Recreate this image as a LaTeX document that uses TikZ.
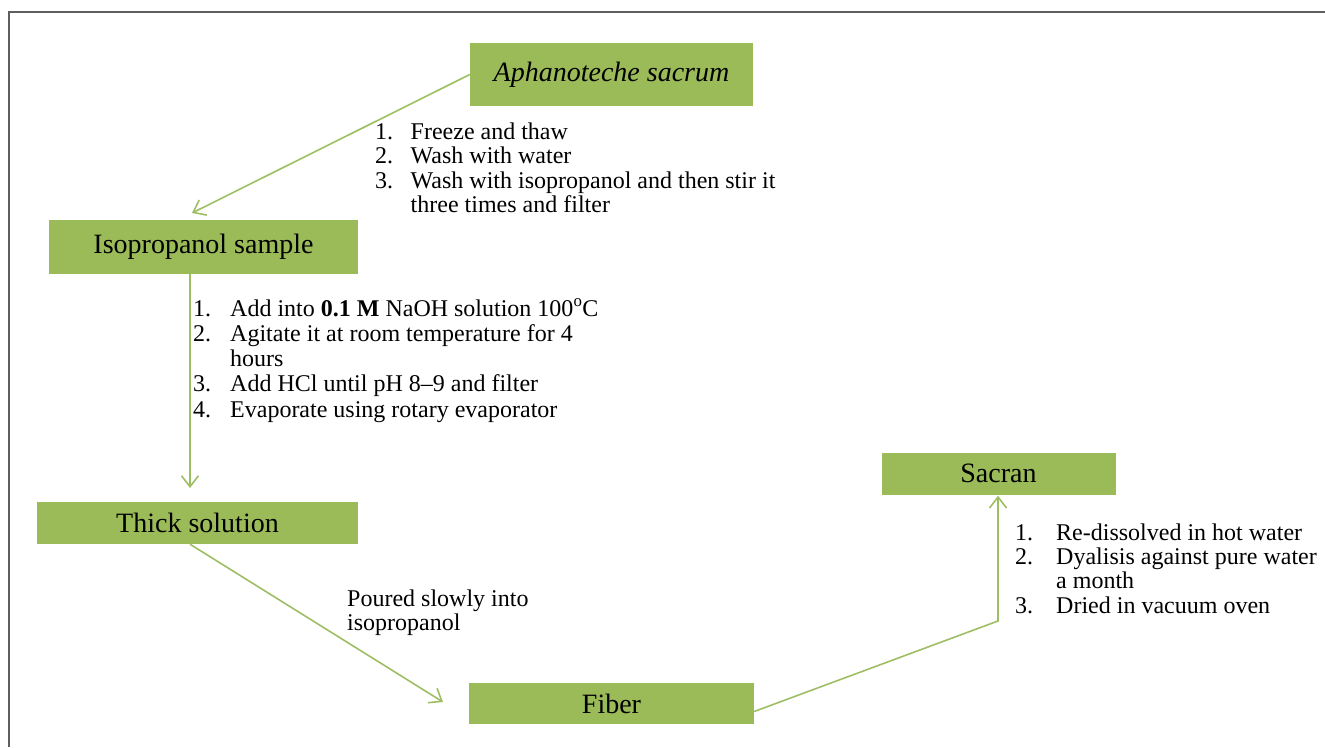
\documentclass[tikz,border=0pt]{standalone}
\usepackage{fontspec}
\setmainfont{Liberation Serif}
\usetikzlibrary{arrows.meta,calc}
\definecolor{boxgreen}{RGB}{155,187,89}
\definecolor{arrowgreen}{RGB}{158,190,100}
\definecolor{framegray}{RGB}{95,95,95}
\newcommand{\itm}[2][36pt]{\makebox[#1][l]{#2}}
\begin{document}
\begin{tikzpicture}[x=1pt,y=-1pt,
  stagebox/.style={fill=boxgreen, draw=none, inner sep=0pt, font=\fontsize{28}{30}\selectfont},
  flow/.style={draw=arrowgreen, line width=1.6pt, -{Straight Barb[length=11pt,width=17pt,line width=1.6pt]}},
  steplist/.style={inner sep=0pt, anchor=base west}]
\useasboundingbox (0,0) rectangle (1325,747);
\draw[framegray, line width=1.5pt] (9,747) -- (9,12) -- (1325,12);

\node[stagebox, minimum width=283pt, minimum height=63pt] (aph) at (611.5,74.5) {\itshape Aphanoteche sacrum};
\node[stagebox, minimum width=309pt, minimum height=54pt] (isop) at (203.5,247) {Isopropanol sample};
\node[stagebox, minimum width=321pt, minimum height=42pt] (thick) at (197.5,523) {Thick solution};
\node[stagebox, minimum width=285pt, minimum height=41pt] (fiber) at (611.5,703.5) {Fiber};
\node[stagebox, minimum width=234pt, minimum height=42pt] (sacran) at (998.5,473.5) {Sacran};

\coordinate (t1) at (192,213);
\coordinate (t2) at (190,488);
\coordinate (t3) at (443,702);
\coordinate (c4) at (998,621);

\draw[flow] (aph.west) -- (t1);
\draw[flow] (isop.south -| t2) -- (t2);
\draw[flow] (thick.south -| t2) -- (t3);
\draw[flow, shorten >=1pt] ($(fiber.east)+(0,8)$) -- (c4) -- (c4 |- sacran.south);

\node[steplist, font=\fontsize{24}{24.5}\selectfont] (l1) at (375,139) {\begin{tabular}[t]{@{}l@{}}\itm[35.5pt]{1.}Freeze and thaw\\ \itm[35.5pt]{2.}Wash with water\\ \itm[35.5pt]{3.}Wash with isopropanol and then stir it\\ \itm[35.5pt]{}three times and filter\end{tabular}};

\node[steplist, font=\fontsize{24}{25.3}\selectfont] (l2) at (193,316) {\begin{tabular}[t]{@{}l@{}}\itm[37pt]{1.}Add into \textbf{0.1 M} NaOH solution 100\textsuperscript{o}C\\ \itm[37pt]{2.}Agitate it at room temperature for 4\\ \itm[37pt]{}hours\\ \itm[37pt]{3.}Add HCl until pH 8--9 and filter\\ \itm[37pt]{4.}Evaporate using rotary evaporator\end{tabular}};

\node[steplist, font=\fontsize{24}{24.5}\selectfont] (l3) at (347,606) {\begin{tabular}[t]{@{}l@{}}Poured slowly into\\ isopropanol\end{tabular}};

\node[steplist, font=\fontsize{24}{24.4}\selectfont] (l4) at (1015,540) {\begin{tabular}[t]{@{}l@{}}\itm[41pt]{1.}Re-dissolved in hot water\\ \itm[41pt]{2.}Dyalisis against pure water\\ \itm[41pt]{}a month\\ \itm[41pt]{3.}Dried in vacuum oven\end{tabular}};
\end{tikzpicture}
\end{document}
